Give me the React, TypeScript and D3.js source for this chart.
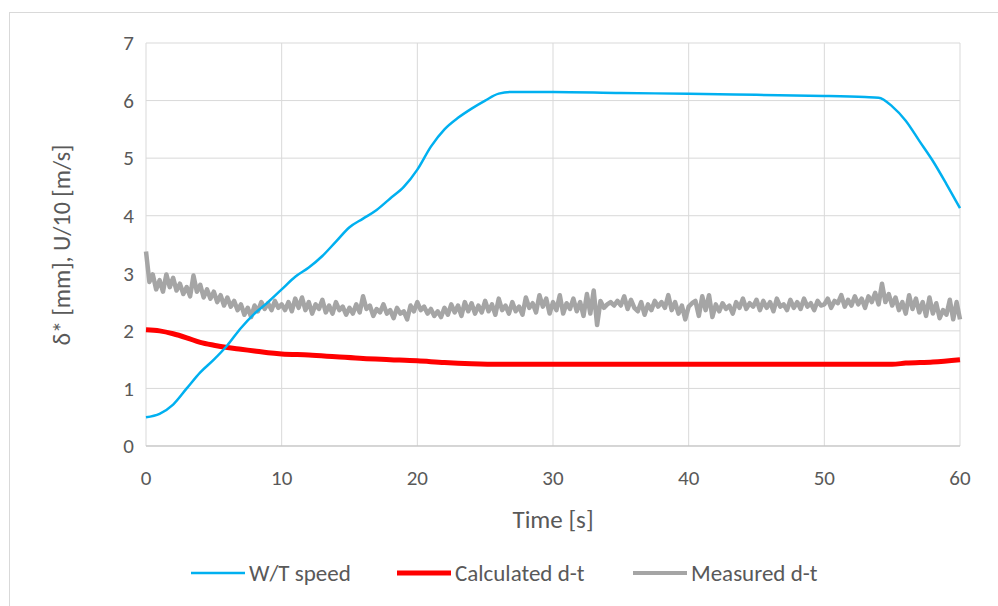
import * as d3 from 'd3'

// W/T speed (U/10, m/s)
const speedT = [0, 1, 2, 3, 4, 5, 6, 7, 8, 9, 10, 11, 12, 13, 14, 15, 16, 17, 18, 19, 20, 21, 22, 23, 24, 25, 26, 27, 30, 35, 40, 45, 50, 53, 54, 55, 56, 57, 58, 59, 60]
const speedV = [0.5, 0.56, 0.72, 1.0, 1.28, 1.5, 1.75, 2.05, 2.3, 2.5, 2.72, 2.94, 3.1, 3.3, 3.55, 3.8, 3.95, 4.1, 4.3, 4.5, 4.8, 5.2, 5.5, 5.7, 5.86, 6.0, 6.12, 6.15, 6.15, 6.13, 6.12, 6.1, 6.08, 6.06, 6.05, 5.9, 5.65, 5.3, 4.95, 4.55, 4.13]

// calculated displacement thickness
const calcT = [0, 1, 2, 3, 4, 5, 6, 7, 8, 9, 10, 12, 14, 16, 18, 20, 22, 24, 26, 30, 40, 50, 55, 56, 58, 60]
const calcV = [2.02, 2.0, 1.95, 1.88, 1.8, 1.75, 1.71, 1.68, 1.65, 1.62, 1.6, 1.58, 1.55, 1.52, 1.5, 1.48, 1.45, 1.43, 1.42, 1.42, 1.42, 1.42, 1.42, 1.44, 1.46, 1.5]

// measured displacement thickness, sampled every 0.25 s
const measV = [
  3.38, 2.85, 2.98, 2.72, 2.88, 2.68, 2.98, 2.76, 2.92, 2.7, 2.82, 2.64, 2.76, 2.6, 2.96, 2.68, 2.8, 2.58, 2.72, 2.56,
  2.68, 2.5, 2.62, 2.44, 2.58, 2.42, 2.52, 2.36, 2.46, 2.28, 2.4, 2.24, 2.44, 2.34, 2.5, 2.38, 2.48, 2.36, 2.52, 2.4,
  2.46, 2.36, 2.5, 2.34, 2.56, 2.4, 2.58, 2.36, 2.5, 2.3, 2.46, 2.38, 2.54, 2.32, 2.44, 2.3, 2.5, 2.36, 2.42, 2.28,
  2.4, 2.3, 2.46, 2.32, 2.6, 2.38, 2.44, 2.26, 2.38, 2.32, 2.46, 2.3, 2.36, 2.22, 2.4, 2.3, 2.34, 2.2, 2.44, 2.34,
  2.5, 2.36, 2.42, 2.3, 2.38, 2.26, 2.34, 2.24, 2.4, 2.28, 2.46, 2.32, 2.44, 2.26, 2.5, 2.34, 2.48, 2.3, 2.44, 2.32,
  2.52, 2.34, 2.46, 2.28, 2.56, 2.36, 2.44, 2.3, 2.5, 2.34, 2.42, 2.28, 2.58, 2.4, 2.48, 2.32, 2.62, 2.42, 2.56, 2.3,
  2.5, 2.36, 2.62, 2.3, 2.48, 2.38, 2.56, 2.34, 2.5, 2.26, 2.64, 2.3, 2.7, 2.1, 2.52, 2.4, 2.46, 2.5, 2.44, 2.52,
  2.44, 2.6, 2.38, 2.54, 2.4, 2.34, 2.5, 2.28, 2.46, 2.36, 2.52, 2.42, 2.5, 2.4, 2.62, 2.36, 2.5, 2.3, 2.44, 2.2,
  2.42, 2.48, 2.52, 2.26, 2.6, 2.36, 2.62, 2.24, 2.46, 2.34, 2.48, 2.38, 2.44, 2.3, 2.5, 2.4, 2.56, 2.38, 2.48, 2.42,
  2.54, 2.36, 2.52, 2.4, 2.5, 2.34, 2.56, 2.42, 2.46, 2.36, 2.54, 2.4, 2.5, 2.38, 2.56, 2.42, 2.48, 2.36, 2.52, 2.44,
  2.46, 2.56, 2.4, 2.52, 2.48, 2.62, 2.42, 2.54, 2.44, 2.6, 2.46, 2.56, 2.4, 2.6, 2.5, 2.66, 2.46, 2.82, 2.5, 2.64,
  2.44, 2.58, 2.36, 2.5, 2.3, 2.62, 2.38, 2.56, 2.32, 2.5, 2.26, 2.58, 2.3, 2.48, 2.22, 2.36, 2.28, 2.54, 2.2, 2.5,
  2.2,
]
const measStep = 0.25

const xTicks = [0, 10, 20, 30, 40, 50, 60]
const yTicks = [0, 1, 2, 3, 4, 5, 6, 7]

const legendItems = [
  { label: 'W/T speed', color: '#00b0f0', width: 2.5 },
  { label: 'Calculated d-t', color: '#ff0000', width: 5 },
  { label: 'Measured d-t', color: '#a5a5a5', width: 4 },
]

const FONT = 'Carlito, Calibri, Lato, sans-serif'
const TEXT = '#595959'

export default function App() {
  const W = 998
  const H = 606
  const x = d3.scaleLinear().domain([0, 60]).range([146, 960])
  const y = d3.scaleLinear().domain([0, 7]).range([446, 43])

  const line = d3.line<[number, number]>().x(d => x(d[0])).y(d => y(d[1]))
  const smooth = d3.line<[number, number]>().x(d => x(d[0])).y(d => y(d[1])).curve(d3.curveMonotoneX)

  const speedPts = speedT.map((t, i) => [t, speedV[i]] as [number, number])
  const calcPts = calcT.map((t, i) => [t, calcV[i]] as [number, number])
  const measPts = measV.map((v, i) => [i * measStep, v] as [number, number])

  const legendX = [191, 397, 633]

  return (
    <svg width={W} height={H} style={{ position: 'absolute', left: 0, top: 0, background: '#fff' }} fontFamily={FONT}>
      <rect x={9.5} y={12.5} width={1000} height={700} fill="#fff" stroke="#d9d9d9" />

      {/* gridlines */}
      {yTicks.map(t => (
        <line key={'gy' + t} x1={x(0)} x2={x(60)} y1={y(t)} y2={y(t)} stroke="#d9d9d9" strokeWidth={1} />
      ))}
      {xTicks.map(t => (
        <line key={'gx' + t} x1={x(t)} x2={x(t)} y1={y(0)} y2={y(7)} stroke="#d9d9d9" strokeWidth={1} />
      ))}
      <line x1={x(0)} x2={x(60)} y1={y(0)} y2={y(0)} stroke="#bfbfbf" strokeWidth={1} />

      {/* tick labels */}
      {yTicks.map(t => (
        <text key={'ly' + t} x={134} y={y(t)} dy="0.35em" textAnchor="end" fontSize={21} fill={TEXT}>{t}</text>
      ))}
      {xTicks.map(t => (
        <text key={'lx' + t} x={x(t)} y={478} dy="0.35em" textAnchor="middle" fontSize={21} fill={TEXT}>{t}</text>
      ))}

      {/* axis titles */}
      <text x={553} y={519} dy="0.35em" textAnchor="middle" fontSize={25} fill={TEXT}>Time [s]</text>
      <text transform="translate(62,245) rotate(-90)" dy="0.35em" textAnchor="middle" fontSize={24} fill={TEXT}>δ* [mm], U/10 [m/s]</text>

      {/* series */}
      <path d={line(measPts) ?? ''} fill="none" stroke="#a5a5a5" strokeWidth={4.5} strokeLinejoin="round" />
      <path d={smooth(calcPts) ?? ''} fill="none" stroke="#ff0000" strokeWidth={5} strokeLinejoin="round" />
      <path d={smooth(speedPts) ?? ''} fill="none" stroke="#00b0f0" strokeWidth={2.5} strokeLinejoin="round" />

      {/* legend */}
      {legendItems.map((d, i) => (
        <g key={d.label} transform={`translate(${legendX[i]},573)`}>
          <line x1={0} x2={54} y1={0} y2={0} stroke={d.color} strokeWidth={d.width} />
          <text x={58} y={0} dy="0.35em" fontSize={23} fill={TEXT}>{d.label}</text>
        </g>
      ))}
    </svg>
  )
}
